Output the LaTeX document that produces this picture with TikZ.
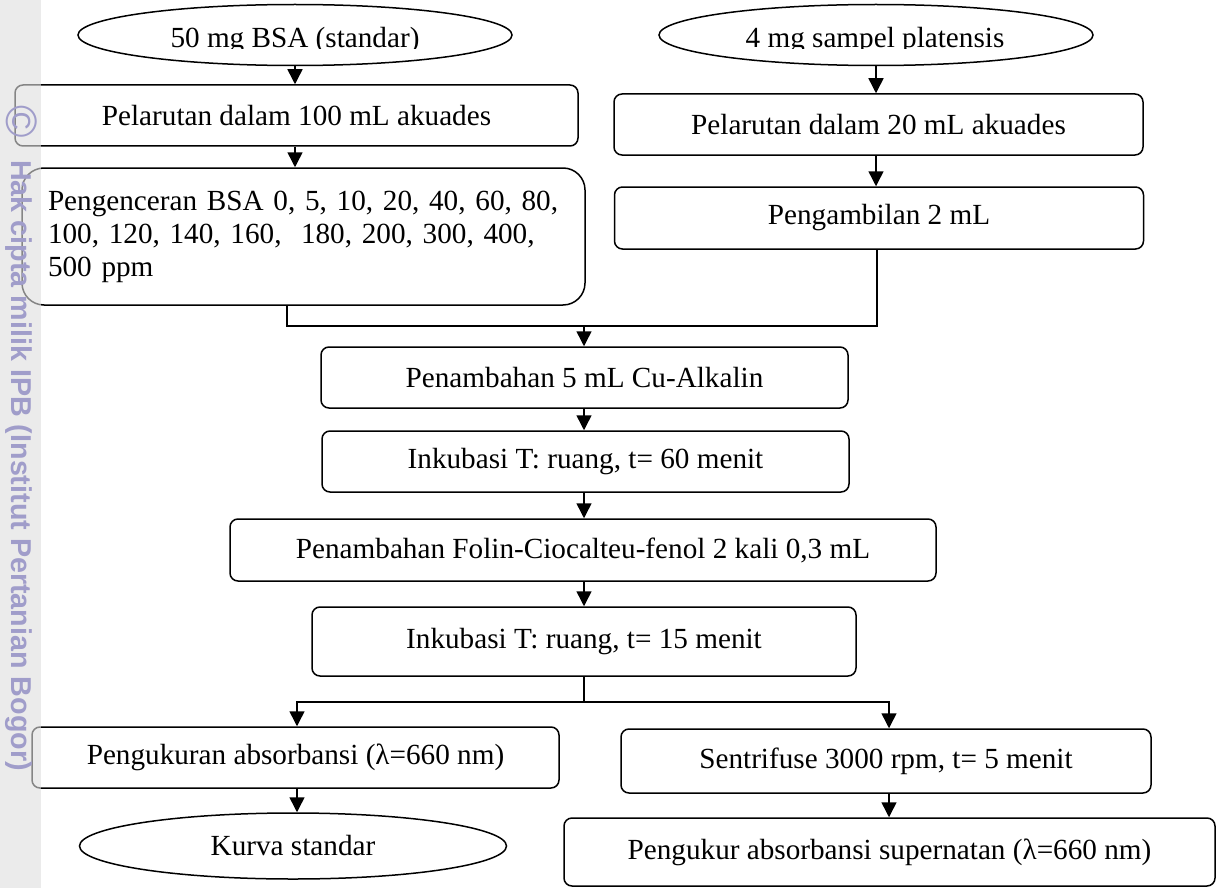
\documentclass[tikz,border=0pt]{standalone}
\usepackage{fontspec}
\setmainfont{Liberation Serif}
\newfontfamily\wmfont{Liberation Sans}
\usetikzlibrary{shapes.geometric,arrows.meta}
\definecolor{wmtext}{RGB}{160,157,202}
\begin{document}
\begin{tikzpicture}[x=1pt,y=-1pt,
  every node/.style={font=\fontsize{29.2}{33}\selectfont},
  box/.style={draw, line width=1.5pt, rounded corners=8pt, inner sep=0pt, minimum height=61pt},
  oval/.style={draw, line width=1.5pt, ellipse, inner sep=0pt},
  link/.style={line width=1.5pt},
  arr/.style={link, -{Triangle[length=15pt,width=15pt]}},
]
\useasboundingbox (0,0) rectangle (1223,888);

% start ovals (labels cut at the baseline)
\node[oval, minimum width=434pt, minimum height=61pt] (e1) at (295,35) {};
\node[oval, minimum width=434pt, minimum height=61pt] (e2) at (876,35) {};
\begin{scope}
  \clip (0,0) rectangle (1223,49);
  \node[anchor=base, inner sep=0pt] (t1) at (295,48) {50 mg BSA (standar)};
  \node[anchor=base, inner sep=0pt] (t2) at (875,48) {4 mg sampel platensis};
\end{scope}

% left branch: standard
\node[box, minimum width=563pt] (l1) at (296.5,115.5) {Pelarutan dalam 100 mL akuades};
\node[box, rounded corners=22pt, minimum width=563pt, minimum height=137pt,
      text width=511pt, inner xsep=26pt, align=left] (l2) at (303.5,236.5)
  {Pengenceran BSA 0, 5, 10, 20, 40, 60, 80,\\
   100, 120, 140, 160, \ 180, 200, 300, 400,\\
   500 ppm};

% right branch: sample
\node[box, minimum width=529pt] (r1) at (878.5,124.5) {Pelarutan dalam 20 mL akuades};
\node[box, minimum width=529pt, minimum height=62pt] (r2) at (879,218) {Pengambilan 2 mL};

% common steps
\node[box, minimum width=527pt] (c1) at (584.5,377.5) {Penambahan 5 mL Cu-Alkalin};
\node[box, minimum width=527pt] (c2) at (585.5,461.5) {Inkubasi T: ruang, t= 60 menit};
\node[box, minimum width=706pt, minimum height=62pt] (c3) at (583,550) {Penambahan Folin-Ciocalteu-fenol 2 kali 0,3 mL};
\node[box, minimum width=544pt, minimum height=69pt] (c4) at (584,641.5) {Inkubasi T: ruang, t= 15 menit};

% outputs
\node[box, minimum width=527pt] (p1) at (295.5,757.5) {Pengukuran absorbansi (λ=660 nm)};
\node[oval, minimum width=427pt, minimum height=66pt] (k) at (293,846) {Kurva standar};
\node[box, minimum width=530pt, minimum height=64pt] (s) at (886,761) {Sentrifuse 3000 rpm, t= 5 menit};
\node[box, minimum width=651pt, minimum height=68pt] (f) at (889.5,852) {Pengukur absorbansi supernatan (λ=660 nm)};

% connectors
\draw[arr] (e1.south) -- (e1.south |- l1.north);
\draw[arr] (l1.south -| e1.south) -- (e1.south |- l2.north);
\draw[arr] (e2.south) -- (e2.south |- r1.north);
\draw[arr] (r1.south -| e2.south) -- (e2.south |- r2.north);

\coordinate (jl) at (287,326);
\coordinate (jr) at (877,326);
\coordinate (jm) at (584,326);
\draw[link] (jl |- l2.south) -- (jl) -- (jr) -- (jr |- r2.south);
\draw[arr] (jm) -- (jm |- c1.north);
\draw[arr] (c1.south -| jm) -- (jm |- c2.north);
\draw[arr] (c2.south -| jm) -- (jm |- c3.north);
\draw[arr] (c3.south -| jm) -- (jm |- c4.north);

\coordinate (sm) at (584,702);
\coordinate (sl) at (297,702);
\coordinate (sr) at (889,702);
\draw[link] (c4.south -| sm) -- (sm);
\draw[arr] (sm) -| (sl |- p1.north);
\draw[arr] (sm) -| (sr |- s.north);
\draw[arr] (p1.south -| sl) -- (sl |- k.north);
\draw[arr] (s.south -| sr) -- (sr |- f.north);

% side band with copyright line
\fill[black!13, opacity=0.6] (0,0) rectangle (41,888);
\node[rotate=-90, font=\wmfont\fontsize{44}{44}\selectfont, text=wmtext, inner sep=0pt] (cp) at (22,122) {©};
\node[rotate=-90, anchor=base west, inner sep=0pt, text=wmtext,
      font=\wmfont\bfseries\fontsize{28.7}{30}\selectfont] (wm) at (11,160)
  {Hak cipta milik IPB (Institut Pertanian Bogor)};
\end{tikzpicture}
\end{document}
